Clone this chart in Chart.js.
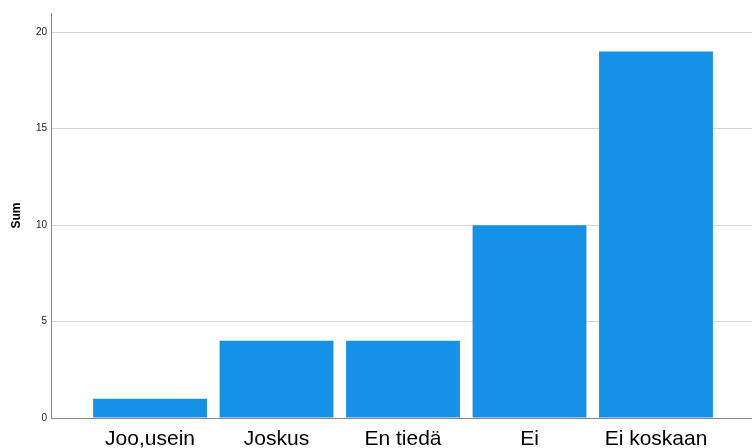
<!DOCTYPE html>
<html>
<head>
<meta charset="utf-8">
<script src="https://cdn.jsdelivr.net/npm/chart.js@4/dist/chart.umd.min.js"></script>
<style>
  html, body { margin: 0; padding: 0; background: #fff; }
  #wrap { width: 752px; height: 448px; }
</style>
</head>
<body>
<div id="wrap"><canvas id="sumChart" width="752" height="448"></canvas></div>
<script>
// categories and values
const categories = ["Joo,usein", "Joskus", "En tiedä", "Ei", "Ei koskaan"];
const sums = [1, 4, 4, 10, 19];
const yTicks = [0, 5, 10, 15, 20];

const barColor = "#1591e8";

const ctx = document.getElementById("sumChart");
new Chart(ctx, {
  type: "bar",
  data: {
    datasets: [
      {
        label: "Sum",
        data: sums.map((v, i) => ({ x: i, y: v })),
        backgroundColor: barColor,
        borderWidth: 0,
        categoryPercentage: 1,
        barPercentage: 0.9
      }
    ]
  },
  options: {
    responsive: false,
    animation: false,
    layout: { padding: { top: 13, right: 0, left: 0, bottom: 0 } },
    plugins: {
      legend: { display: false },
      tooltip: { enabled: false }
    },
    scales: {
      x: {
        type: "linear",
        offset: false,
        min: -0.783,
        max: 4.759,
        afterBuildTicks: (scale) => {
          scale.ticks = categories.map((_, i) => ({ value: i }));
        },
        afterFit: (scale) => { scale.height = 30; },
        ticks: {
          autoSkip: false,
          maxRotation: 0,
          padding: 9,
          color: "#000",
          font: { family: "Liberation Sans, Arial, sans-serif", size: 21 },
          callback: (v) => categories[v]
        },
        grid: { display: false, drawTicks: false },
        border: { display: true, color: "#888", width: 1 }
      },
      y: {
        min: 0,
        max: 21,
        afterBuildTicks: (scale) => {
          scale.ticks = yTicks.map(v => ({ value: v }));
        },
        afterFit: (scale) => { scale.width = 51; },
        ticks: {
          padding: 4,
          color: "#222",
          font: { family: "Liberation Sans, Arial, sans-serif", size: 10 }
        },
        grid: { color: "#d4d4d4", lineWidth: 1, drawTicks: false },
        border: { display: true, color: "#888", width: 1 },
        title: {
          display: true,
          text: "Sum",
          color: "#000",
          padding: { top: 9, bottom: 0 },
          font: { family: "Liberation Sans, Arial, sans-serif", size: 12, weight: "bold" }
        }
      }
    }
  }
});
</script>
</body>
</html>
